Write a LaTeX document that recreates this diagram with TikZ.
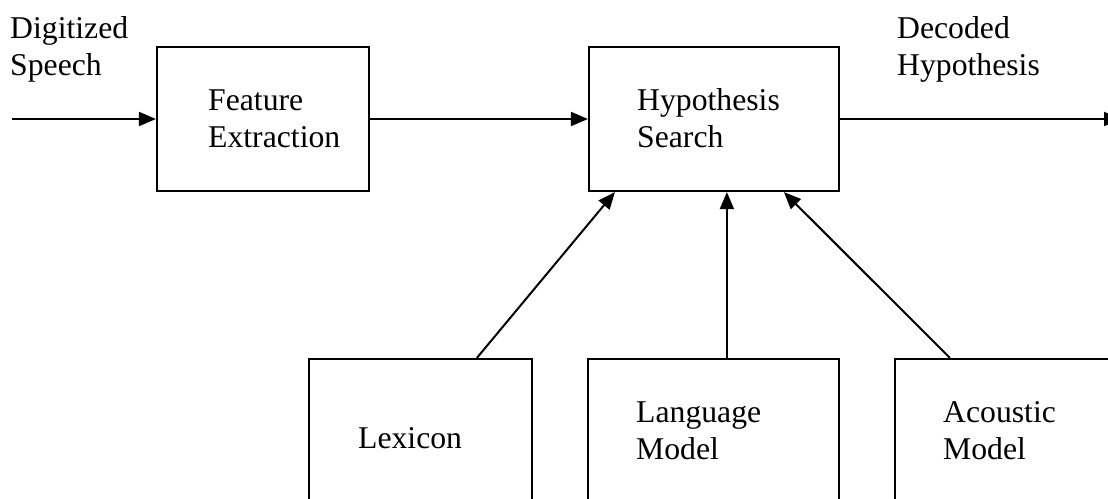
\documentclass[tikz,border=0pt]{standalone}
\usepackage{fontspec}
\setmainfont{Liberation Serif}
\usetikzlibrary{arrows.meta}
\newcommand{\twolines}[2]{\vtop{\hbox{#1}\hbox{#2}}}
\begin{document}
\begin{tikzpicture}[x=1pt,y=-1pt,
  blockbox/.style={draw,line width=2.2pt,rectangle,inner sep=0pt},
  lbl/.style={anchor=base west,inner sep=0pt,font=\fontsize{31.7}{37}\selectfont},
  conn/.style={line width=2pt,-{Triangle[length=17pt,width=14pt]}}]
\useasboundingbox (0,0) rectangle (1108,498);
\fill[white] (0,0) rectangle (1108,498);
\begin{scope}
\clip (0,0) rectangle (1108,498);
% boxes
\node[blockbox,minimum width=212pt,minimum height=144pt] (fe) at (263,119) {};
\node[blockbox,minimum width=250pt,minimum height=144pt] (hs) at (714,119) {};
\node[blockbox,minimum width=223pt,minimum height=180pt] (lex) at (420.5,449) {};
\node[blockbox,minimum width=251pt,minimum height=180pt] (lm) at (713.5,449) {};
\node[blockbox,minimum width=260pt,minimum height=180pt] (am) at (1025,449) {};
% free ends
\coordinate (in) at (12,119);
\coordinate (out) at (1121,119);
% connectors
\draw[conn] (in) -- (fe.west);
\draw[conn] (fe.east) -- (hs.west);
\draw[conn] (hs.east) -- (out);
\draw[conn] ([xshift=169pt]lex.north west) -- ([xshift=27pt]hs.south west);
\draw[conn] ([xshift=140pt]lm.north west) -- ([xshift=139pt]hs.south west);
\draw[conn] ([xshift=56pt]am.north west) -- ([xshift=196pt]hs.south west);
\end{scope}
% texts
\node[lbl] (tin) at (10,38) {\twolines{Digitized}{Speech}};
\node[lbl] (tfe) at (208,110) {\twolines{Feature}{Extraction}};
\node[lbl] (ths) at (637,110) {\twolines{Hypothesis}{Search}};
\node[lbl] (tout) at (897,38) {\twolines{Decoded}{Hypothesis}};
\node[lbl] (tlex) at (358,448) {Lexicon};
\node[lbl] (tlm) at (636,422) {\twolines{Language}{Model}};
\node[lbl] (tam) at (943,422) {\twolines{Acoustic}{Model}};
\end{tikzpicture}
\end{document}
